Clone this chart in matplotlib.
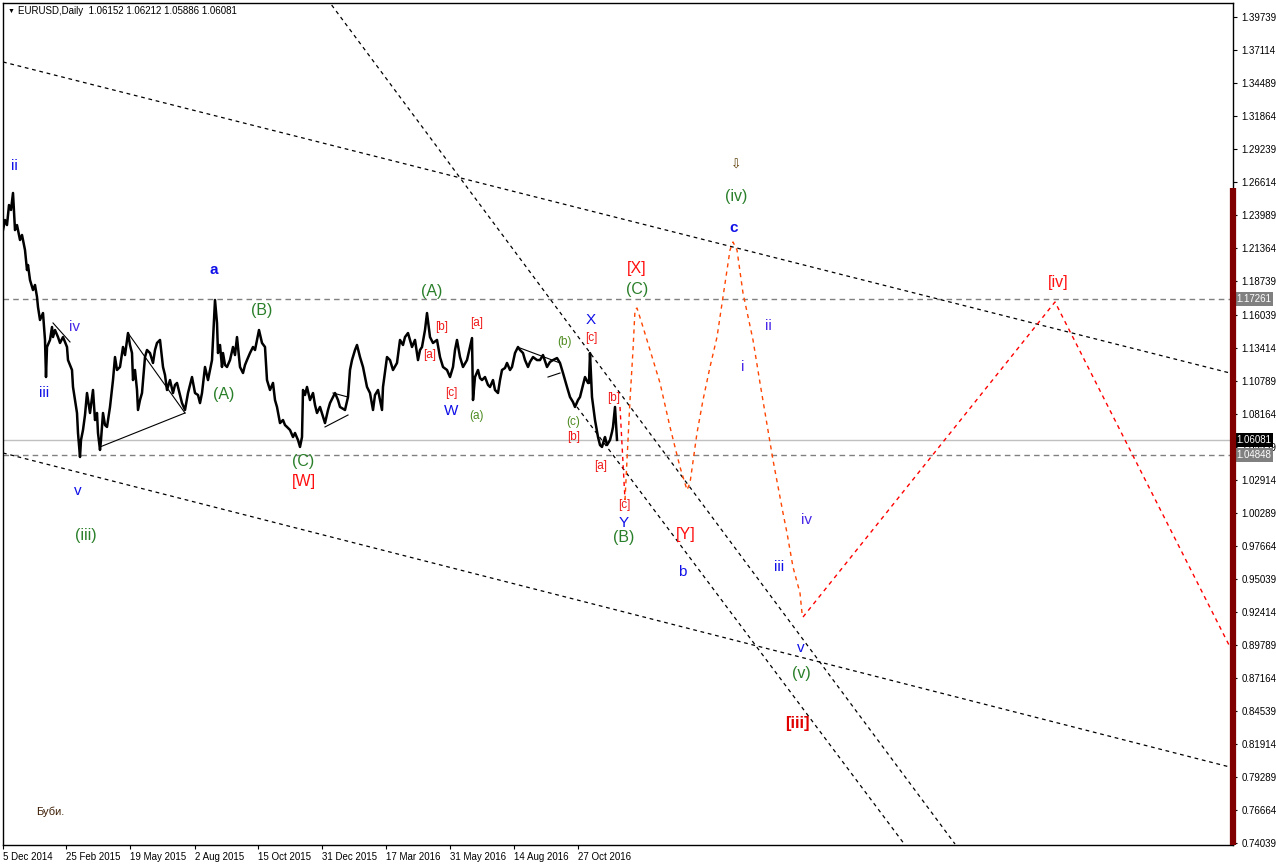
import matplotlib
matplotlib.use("Agg")
import matplotlib.pyplot as plt
import matplotlib.transforms as mtransforms
import numpy as np

plt.rcParams['font.family'] = ['Liberation Sans', 'DejaVu Sans']

# === Price data (bar index, close) ===
bars = [0, 2, 4, 6, 8, 10, 12, 14, 17, 19, 22, 24, 25, 27, 30, 32, 34, 35, 37, 40,
        42, 43, 44, 47, 49, 50, 52, 55, 57, 60, 64, 65, 69, 70, 74, 75, 77, 78, 80, 82,
        84, 87, 90, 92, 94, 95, 97, 98, 100, 102, 104, 107, 110, 112, 114, 117, 120, 122, 125, 127,
        129, 130, 132, 134, 135, 137, 139, 142, 144, 147, 150, 152, 154, 157, 160, 162, 164, 167, 170, 172,
        174, 177, 179, 182, 185, 187, 189, 192, 195, 197, 199, 202, 205, 207, 209, 210, 212, 214, 215, 217,
        219, 220, 222, 224, 227, 230, 232, 234, 237, 240, 242, 244, 247, 250, 252, 254, 256, 259, 262, 264,
        267, 270, 272, 274, 277, 280, 282, 284, 287, 290, 292, 295, 297, 299, 300, 302, 304, 307, 310, 312,
        314, 317, 322, 325, 327, 332, 335, 337, 342, 345, 347, 349, 352, 354, 357, 360, 364, 367, 370, 372,
        375, 377, 379, 380, 384, 387, 390, 394, 397, 400, 402, 405, 407, 409, 412, 415, 417, 419, 422, 424,
        427, 430, 434, 437, 440, 444, 447, 450, 452, 454, 457, 460, 464, 467, 469, 470, 472, 475, 477, 479,
        482, 485, 487, 490, 492, 495, 497, 499, 502, 504, 507, 509, 512, 515, 517, 520, 522, 525, 527, 530,
        534, 537, 540, 544, 547, 550, 554, 557, 560, 564, 567, 570, 572, 575, 577, 580, 582, 585, 586, 587,
        589, 592, 595, 597, 599, 601, 602, 604, 607, 609, 610, 612, 614]
close = [1.2277, 1.2357, 1.2317, 1.2476, 1.2437, 1.2572, 1.2277, 1.2317, 1.2198, 1.2238,
         1.2118, 1.1959, 1.1999, 1.1880, 1.1800, 1.1840, 1.1745, 1.1665, 1.1562, 1.1617,
         1.1403, 1.1108, 1.1347, 1.1403, 1.1506, 1.1426, 1.1482, 1.1426, 1.1379, 1.1426,
         1.1347, 1.1243, 1.1164, 1.1029, 1.0822, 1.0663, 1.0472, 1.0607, 1.0687, 1.0806,
         1.0981, 1.0822, 1.1005, 1.0766, 1.0822, 1.0663, 1.0528, 1.0607, 1.0822, 1.0726,
         1.0711, 1.0870, 1.1084, 1.1267, 1.1164, 1.1188, 1.1347, 1.1283, 1.1458, 1.1363,
         1.1299, 1.1084, 1.1164, 1.1005, 1.0846, 1.0925, 1.0981, 1.1267, 1.1323, 1.1299,
         1.1220, 1.1323, 1.1379, 1.1403, 1.1188, 1.1124, 1.1005, 1.1084, 1.0981, 1.1045,
         1.1061, 1.0965, 1.0901, 1.0846, 1.0981, 1.1045, 1.1108, 1.0981, 1.0965, 1.0901,
         1.0981, 1.1188, 1.1084, 1.1164, 1.1243, 1.1403, 1.1721, 1.1538, 1.1299, 1.1363,
         1.1188, 1.1299, 1.1204, 1.1188, 1.1243, 1.1347, 1.1283, 1.1426, 1.1188, 1.1140,
         1.1204, 1.1243, 1.1299, 1.1347, 1.1323, 1.1403, 1.1482, 1.1379, 1.1347, 1.1084,
         1.1005, 1.1061, 1.0925, 1.0870, 1.0742, 1.0766, 1.0726, 1.0711, 1.0687, 1.0631,
         1.0663, 1.0607, 1.0552, 1.0631, 1.1005, 1.0965, 1.1029, 1.0925, 1.0981, 1.0886,
         1.0822, 1.0870, 1.0742, 1.0846, 1.0901, 1.0981, 1.0925, 1.0870, 1.0846, 1.0949,
         1.1164, 1.1243, 1.1323, 1.1363, 1.1267, 1.1188, 1.1029, 1.0981, 1.0846, 1.0965,
         1.1005, 1.0925, 1.0846, 1.1029, 1.1267, 1.1243, 1.1164, 1.1220, 1.1403, 1.1363,
         1.1426, 1.1458, 1.1403, 1.1347, 1.1403, 1.1243, 1.1323, 1.1347, 1.1482, 1.1617,
         1.1426, 1.1379, 1.1403, 1.1267, 1.1188, 1.1164, 1.1108, 1.1188, 1.1323, 1.1403,
         1.1267, 1.1188, 1.1243, 1.1347, 1.1418, 1.0925, 1.1108, 1.1164, 1.1100, 1.1084,
         1.1108, 1.1045, 1.1029, 1.1084, 1.1005, 1.0981, 1.1084, 1.1164, 1.1180, 1.1220,
         1.1164, 1.1188, 1.1299, 1.1347, 1.1323, 1.1299, 1.1243, 1.1188, 1.1228, 1.1267,
         1.1243, 1.1243, 1.1283, 1.1188, 1.1228, 1.1243, 1.1259, 1.1220, 1.1140, 1.1029,
         1.0949, 1.0909, 1.0870, 1.0925, 1.0949, 1.1045, 1.1108, 1.1061, 1.1061, 1.1299,
         1.0949, 1.0766, 1.0631, 1.0567, 1.0552, 1.0607, 1.0631, 1.0567, 1.0607, 1.0671,
         1.0711, 1.0870, 1.0608]

# === Axis ticks ===
date_bars = [0, 63, 127, 192, 255, 319, 383, 447, 511, 575]
date_labels = ['5 Dec 2014', '25 Feb 2015', '19 May 2015', '2 Aug 2015', '15 Oct 2015',
               '31 Dec 2015', '17 Mar 2016', '31 May 2016', '14 Aug 2016', '27 Oct 2016']
price_ticks = [1.39739, 1.37114, 1.34489, 1.31864, 1.29239, 1.26614, 1.23989, 1.21364,
               1.18739, 1.16039, 1.13414, 1.10789, 1.08164, 1.05539, 1.02914, 1.00289,
               0.97664, 0.95039, 0.92414, 0.89789, 0.87164, 0.84539, 0.81914, 0.79289,
               0.76664, 0.74039]

# === Levels ===
last_price = 1.06081
level_hi = 1.17261
level_lo = 1.04848

# === Trend lines (bar, price) pairs ===
trend_lines = [
    ([0, 1227], [1.3614, 1.1140]),
    ([322, 952], [1.4138, 0.7394]),
    ([574, 902], [1.0870, 0.7386]),
    ([0, 1227], [1.0504, 0.8006]),
]
pattern_lines = [
    ([50, 67], [1.1538, 1.1387]),
    ([97, 182], [1.0552, 1.0822]),
    ([125, 182], [1.1458, 1.0822]),
    ([322, 345], [1.0711, 1.0806]),
    ([330, 345], [1.0981, 1.0949]),
    ([517, 557], [1.1339, 1.1220]),
    ([545, 557], [1.1108, 1.1140]),
]

# === Forecast paths ===
path_c_bars = [617, 622]
path_c_price = [1.0870, 1.0130]
path_a_bars = [622, 627, 630, 632, 634, 640, 647, 657, 667, 677, 684, 687, 694, 700, 707,
               714, 720, 727, 730, 734, 740, 750, 757, 770, 780, 784, 790, 797, 799]
path_a_price = [1.0130, 1.0925, 1.1323, 1.1641, 1.1657, 1.1506, 1.1323, 1.1061, 1.0711,
                1.0392, 1.0210, 1.0265, 1.0663, 1.0925, 1.1188, 1.1426, 1.1745, 1.2118,
                1.2182, 1.2118, 1.1776, 1.1403, 1.1061, 1.0448, 1.0027, 0.9868, 0.9597,
                0.9390, 0.9231]
path_b_bars = [800, 1052, 1227]
path_b_price = [0.9199, 1.1705, 0.8961]

# === Wave labels (text, bar, price) ===
blue_labels = [('ii', 11, 1.2786), ('iii', 41, 1.0981), ('v', 75, 1.0202), ('W', 448, 1.0838),
               ('X', 588, 1.1562), ('Y', 621, 0.9947), ('b', 679, 0.9557), ('iii', 776, 0.9597),
               ('v', 798, 0.8953)]
violet_labels = [('iv', 72, 1.1506), ('ii', 765, 1.1514), ('i', 740, 1.1188), ('iv', 804, 0.9971)]
bold_blue_labels = [('a', 211, 1.1959), ('c', 731, 1.2293)]
green_labels = [('(iii)', 83, 0.9844), ('(A)', 221, 1.0973), ('(B)', 259, 1.1641), ('(C)', 300, 1.0440),
                ('(A)', 429, 1.1792), ('(B)', 621, 0.9828), ('(C)', 634, 1.1808), ('(iv)', 733, 1.2540),
                ('(v)', 798, 0.8754)]
small_green_labels = [('(a)', 473, 1.0798), ('(b)', 562, 1.1387), ('(c)', 570, 1.0750)]
red_labels = [('[W]', 301, 1.0281), ('[X]', 634, 1.1975), ('[Y]', 683, 0.9852), ('[iv]', 1055, 1.1856)]
small_red_labels = [('[b]', 439, 1.1506), ('[a]', 474, 1.1538), ('[a]', 427, 1.1283), ('[c]', 448, 1.0981),
                    ('[b]', 571, 1.0631), ('[c]', 588, 1.1418), ('[b]', 611, 1.0941), ('[a]', 598, 1.0400),
                    ('[c]', 621, 1.0090)]

# === Figure ===
W, H = 1276, 866
fig = plt.figure(figsize=(W / 100, H / 100), dpi=100)
ax = fig.add_axes([3 / W, 21 / H, 1230 / W, 842 / H])
ax.set_xlim(0, 1230)
ax.set_ylim(0.7386, 1.4083)
for s in ax.spines.values():
    s.set_color('black')
    s.set_linewidth(1)

ax.axhline(last_price, color='#c0c0c0', lw=1, zorder=1)
ax.axhline(level_hi, color='#808080', lw=1, ls=(0, (4, 3)), zorder=1)
ax.axhline(level_lo, color='#808080', lw=1, ls=(0, (4, 3)), zorder=1)

for xs, ys in trend_lines:
    ax.plot(xs, ys, color='black', lw=0.9, ls=(0, (3, 3)), zorder=2)
for xs, ys in pattern_lines:
    ax.plot(xs, ys, color='black', lw=0.8, zorder=2)

ax.plot(bars, close, color='black', lw=1.8, zorder=3)

ax.plot(path_c_bars, path_c_price, color='#ff0000', lw=1, ls=(0, (3, 3)), zorder=3)
ax.plot(path_a_bars, path_a_price, color='#ff4500', lw=1, ls=(0, (3, 3)), zorder=3)
ax.plot(path_b_bars, path_b_price, color='#ff0000', lw=1, ls=(0, (3, 3)), zorder=3)

# --- labels ---
def put(labels, color, size, weight='normal'):
    for t, x, y in labels:
        ax.text(x, y, t, color=color, fontsize=size, fontweight=weight,
                ha='center', va='center', zorder=4)

put(blue_labels, '#1010e8', 11)
put(violet_labels, '#4a28e8', 11)
put(bold_blue_labels, '#1010e8', 11, 'bold')
put(green_labels, '#2a7f2a', 11.5)
put(small_green_labels, '#4d8a1f', 8.5)
put(red_labels, '#ff1010', 11.5)
put(small_red_labels, '#f01818', 8.5)
ax.text(794, 0.8356, '[iii]', color='#e00000', fontsize=12, fontweight='bold',
        ha='center', va='center')
ax.text(733, 1.2786, '\u21e9', color='#5a3a00', fontsize=9, ha='center', va='center')
ax.text(47, 0.7649, 'Буби.', color='#3a1a00', fontsize=8, ha='center', va='center')

ax.text(0.004, 0.9905, '\u25bc', transform=ax.transAxes, fontsize=5, va='center', ha='left')
ax.text(0.0125, 0.9905, 'EURUSD,Daily  1.06152 1.06212 1.05886 1.06081', transform=ax.transAxes,
        fontsize=7, va='center', ha='left')

# === Axes ticks ===
ax.yaxis.tick_right()
ax.set_yticks(price_ticks)
ax.set_yticklabels([f'{v:.5f}' for v in price_ticks])
ax.tick_params(axis='y', direction='out', length=3, pad=3, labelsize=7, width=0.8)
ax.set_xticks(date_bars)
ax.set_xticklabels(date_labels, ha='left')
ax.tick_params(axis='x', direction='out', length=3, pad=2, labelsize=7, width=0.8)

# --- price boxes on the scale ---
tr = mtransforms.blended_transform_factory(ax.transAxes, ax.transData)
for v, bg in [(level_hi, '#808080'), (last_price, 'black'), (level_lo, '#808080')]:
    ax.text(1.0025, v, f'{v:.5f}', transform=tr, color='white', fontsize=7, ha='left', va='center',
            clip_on=False, zorder=6,
            bbox=dict(boxstyle='square,pad=0.2', fc=bg, ec='none'))

ax.plot([1.0, 1.0], [0.7386, 1.2614], transform=tr, color='#800000', lw=4.5,
        solid_capstyle='butt', clip_on=False, zorder=7)

fig.savefig('out.png', dpi=100)
